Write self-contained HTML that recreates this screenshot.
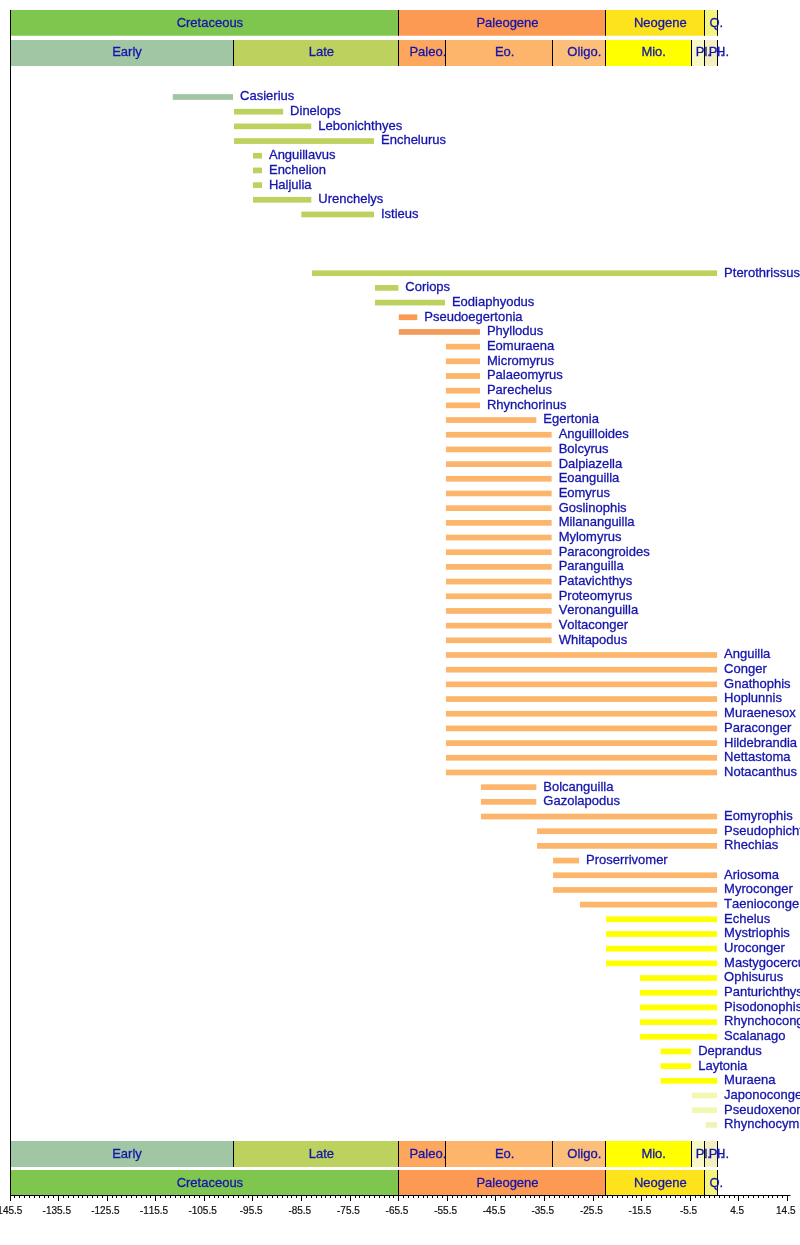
<!DOCTYPE html>
<html><head><meta charset="utf-8"><style>
html,body{margin:0;padding:0;background:#fff;}
body{width:800px;height:1245px;overflow:hidden;}
svg{display:block;filter:blur(0.35px);}
text{font-kerning:none;}
.t text{font-family:"Liberation Sans",Arial,sans-serif;font-size:13px;fill:#1515ac;stroke:#1515ac;stroke-width:0.3px;}
.a text{font-family:"Liberation Sans",Arial,sans-serif;font-size:10px;fill:#111;stroke:#111;stroke-width:0.2px;}
</style></head><body>
<svg width="800" height="1245" viewBox="0 0 800 1245">
<rect width="800" height="1245" fill="#fff"/>
<g class="t">
<rect x="10" y="10" width="388.79" height="25.75" fill="#7fc64e"/>
<rect x="398.79" y="10" width="206.4" height="25.75" fill="#fc9952"/>
<rect x="605.18" y="10" width="99.34" height="25.75" fill="#fde31b"/>
<rect x="704.53" y="10" width="12.58" height="25.75" fill="#f4f57e"/>
<rect x="398" y="10" width="1" height="25.75" fill="#000"/>
<rect x="605" y="10" width="1" height="25.75" fill="#000"/>
<rect x="704" y="10" width="1" height="25.75" fill="#000"/>
<rect x="717" y="10" width="1" height="25.75" fill="#000"/>
<text x="209.89" y="27.2" text-anchor="middle">Cretaceous</text>
<text x="507.48" y="27.2" text-anchor="middle">Paleogene</text>
<text x="660.35" y="27.2" text-anchor="middle">Neogene</text>
<text x="716.31" y="27.2" text-anchor="middle">Q.</text>
<rect x="10" y="40" width="223.07" height="26" fill="#a1c6a4"/>
<rect x="233.07" y="40" width="165.72" height="26" fill="#bdd15e"/>
<rect x="398.79" y="40" width="47.14" height="26" fill="#fca65e"/>
<rect x="445.93" y="40" width="106.43" height="26" fill="#fcb56b"/>
<rect x="552.36" y="40" width="52.83" height="26" fill="#fcbf7a"/>
<rect x="605.18" y="40" width="86.01" height="26" fill="#ffff00"/>
<rect x="691.19" y="40" width="13.34" height="26" fill="#f7f8c4"/>
<rect x="704.53" y="40" width="12.52" height="26" fill="#f3efc0"/>
<rect x="717.05" y="40" width="0.06" height="26" fill="#fff2e0"/>
<rect x="233" y="40" width="1" height="26" fill="#000"/>
<rect x="398" y="40" width="1" height="26" fill="#000"/>
<rect x="445" y="40" width="1" height="26" fill="#000"/>
<rect x="552" y="40" width="1" height="26" fill="#000"/>
<rect x="605" y="40" width="1" height="26" fill="#000"/>
<rect x="691" y="40" width="1" height="26" fill="#000"/>
<rect x="704" y="40" width="1" height="26" fill="#000"/>
<rect x="717" y="40" width="1" height="26" fill="#000"/>
<rect x="717" y="40" width="1" height="26" fill="#000"/>
<text x="127.03" y="56" text-anchor="middle">Early</text>
<text x="321.43" y="56" text-anchor="middle">Late</text>
<text x="427.86" y="56" text-anchor="middle">Paleo.</text>
<text x="504.64" y="56" text-anchor="middle">Eo.</text>
<text x="584.27" y="56" text-anchor="middle">Oligo.</text>
<text x="653.69" y="56" text-anchor="middle">Mio.</text>
<text x="703.36" y="56" text-anchor="middle">Pl.</text>
<text x="716.29" y="56" text-anchor="middle">Pl.</text>
<text x="722.57" y="56" text-anchor="middle">H.</text>
<rect x="10" y="1141" width="223.07" height="26" fill="#a1c6a4"/>
<rect x="233.07" y="1141" width="165.72" height="26" fill="#bdd15e"/>
<rect x="398.79" y="1141" width="47.14" height="26" fill="#fca65e"/>
<rect x="445.93" y="1141" width="106.43" height="26" fill="#fcb56b"/>
<rect x="552.36" y="1141" width="52.83" height="26" fill="#fcbf7a"/>
<rect x="605.18" y="1141" width="86.01" height="26" fill="#ffff00"/>
<rect x="691.19" y="1141" width="13.34" height="26" fill="#f7f8c4"/>
<rect x="704.53" y="1141" width="12.52" height="26" fill="#f3efc0"/>
<rect x="717.05" y="1141" width="0.06" height="26" fill="#fff2e0"/>
<rect x="233" y="1141" width="1" height="26" fill="#000"/>
<rect x="398" y="1141" width="1" height="26" fill="#000"/>
<rect x="445" y="1141" width="1" height="26" fill="#000"/>
<rect x="552" y="1141" width="1" height="26" fill="#000"/>
<rect x="605" y="1141" width="1" height="26" fill="#000"/>
<rect x="691" y="1141" width="1" height="26" fill="#000"/>
<rect x="704" y="1141" width="1" height="26" fill="#000"/>
<rect x="717" y="1141" width="1" height="26" fill="#000"/>
<rect x="717" y="1141" width="1" height="26" fill="#000"/>
<text x="127.03" y="1157.8" text-anchor="middle">Early</text>
<text x="321.43" y="1157.8" text-anchor="middle">Late</text>
<text x="427.86" y="1157.8" text-anchor="middle">Paleo.</text>
<text x="504.64" y="1157.8" text-anchor="middle">Eo.</text>
<text x="584.27" y="1157.8" text-anchor="middle">Oligo.</text>
<text x="653.69" y="1157.8" text-anchor="middle">Mio.</text>
<text x="703.36" y="1157.8" text-anchor="middle">Pl.</text>
<text x="716.29" y="1157.8" text-anchor="middle">Pl.</text>
<text x="722.57" y="1157.8" text-anchor="middle">H.</text>
<rect x="10" y="1170" width="388.79" height="25.2" fill="#7fc64e"/>
<rect x="398.79" y="1170" width="206.4" height="25.2" fill="#fc9952"/>
<rect x="605.18" y="1170" width="99.34" height="25.2" fill="#fde31b"/>
<rect x="704.53" y="1170" width="12.58" height="25.2" fill="#f4f57e"/>
<rect x="398" y="1170" width="1" height="25.2" fill="#000"/>
<rect x="605" y="1170" width="1" height="25.2" fill="#000"/>
<rect x="704" y="1170" width="1" height="25.2" fill="#000"/>
<rect x="717" y="1170" width="1" height="25.2" fill="#000"/>
<text x="209.89" y="1187.3" text-anchor="middle">Cretaceous</text>
<text x="507.48" y="1187.3" text-anchor="middle">Paleogene</text>
<text x="660.35" y="1187.3" text-anchor="middle">Neogene</text>
<text x="716.31" y="1187.3" text-anchor="middle">Q.</text>
<rect x="172.8" y="94.15" width="60.26" height="5.7" fill="#a1c6a4"/>
<text x="240.07" y="100.4">Casierius</text>
<rect x="233.99" y="108.83" width="49.13" height="5.7" fill="#bdd15e"/>
<text x="290.12" y="115.08">Dinelops</text>
<rect x="233.99" y="123.52" width="77.32" height="5.7" fill="#bdd15e"/>
<text x="318.31" y="129.77">Lebonichthyes</text>
<rect x="233.99" y="138.2" width="140.01" height="5.7" fill="#bdd15e"/>
<text x="381" y="144.45">Enchelurus</text>
<rect x="252.99" y="152.89" width="8.99" height="5.7" fill="#bdd15e"/>
<text x="268.98" y="159.14">Anguillavus</text>
<rect x="252.99" y="167.57" width="8.99" height="5.7" fill="#bdd15e"/>
<text x="268.98" y="173.82">Enchelion</text>
<rect x="252.99" y="182.25" width="8.99" height="5.7" fill="#bdd15e"/>
<text x="268.98" y="188.5">Haljulia</text>
<rect x="252.99" y="196.94" width="58.32" height="5.7" fill="#bdd15e"/>
<text x="318.31" y="203.19">Urenchelys</text>
<rect x="301.35" y="211.62" width="72.65" height="5.7" fill="#bdd15e"/>
<text x="381" y="217.87">Istieus</text>
<rect x="312.04" y="270.36" width="405.07" height="5.7" fill="#bdd15e"/>
<text x="724.1" y="276.61">Pterothrissus</text>
<rect x="374.97" y="285.04" width="23.33" height="5.7" fill="#bdd15e"/>
<text x="405.3" y="291.29">Coriops</text>
<rect x="374.97" y="299.73" width="69.98" height="5.7" fill="#bdd15e"/>
<text x="451.95" y="305.98">Eodiaphyodus</text>
<rect x="398.79" y="314.41" width="18.47" height="5.7" fill="#fc9952"/>
<text x="424.25" y="320.66">Pseudoegertonia</text>
<rect x="398.79" y="329.09" width="81.16" height="5.7" fill="#f39b5a"/>
<text x="486.94" y="335.34">Phyllodus</text>
<rect x="445.93" y="343.78" width="34.02" height="5.7" fill="#fcb56b"/>
<text x="486.94" y="350.03">Eomuraena</text>
<rect x="445.93" y="358.46" width="34.02" height="5.7" fill="#fcb56b"/>
<text x="486.94" y="364.71">Micromyrus</text>
<rect x="445.93" y="373.15" width="34.02" height="5.7" fill="#fcb56b"/>
<text x="486.94" y="379.4">Palaeomyrus</text>
<rect x="445.93" y="387.83" width="34.02" height="5.7" fill="#fcb56b"/>
<text x="486.94" y="394.08">Parechelus</text>
<rect x="445.93" y="402.51" width="34.02" height="5.7" fill="#fcb56b"/>
<text x="486.94" y="408.76">Rhynchorinus</text>
<rect x="445.93" y="417.2" width="90.39" height="5.7" fill="#fcb56b"/>
<text x="543.32" y="423.45">Egertonia</text>
<rect x="445.93" y="431.88" width="105.7" height="5.7" fill="#fcb56b"/>
<text x="558.63" y="438.13">Anguilloides</text>
<rect x="445.93" y="446.57" width="105.7" height="5.7" fill="#fcb56b"/>
<text x="558.63" y="452.82">Bolcyrus</text>
<rect x="445.93" y="461.25" width="105.7" height="5.7" fill="#fcb56b"/>
<text x="558.63" y="467.5">Dalpiazella</text>
<rect x="445.93" y="475.93" width="105.7" height="5.7" fill="#fcb56b"/>
<text x="558.63" y="482.18">Eoanguilla</text>
<rect x="445.93" y="490.62" width="105.7" height="5.7" fill="#fcb56b"/>
<text x="558.63" y="496.87">Eomyrus</text>
<rect x="445.93" y="505.3" width="105.7" height="5.7" fill="#fcb56b"/>
<text x="558.63" y="511.55">Goslinophis</text>
<rect x="445.93" y="519.99" width="105.7" height="5.7" fill="#fcb56b"/>
<text x="558.63" y="526.24">Milananguilla</text>
<rect x="445.93" y="534.67" width="105.7" height="5.7" fill="#fcb56b"/>
<text x="558.63" y="540.92">Mylomyrus</text>
<rect x="445.93" y="549.35" width="105.7" height="5.7" fill="#fcb56b"/>
<text x="558.63" y="555.6">Paracongroides</text>
<rect x="445.93" y="564.04" width="105.7" height="5.7" fill="#fcb56b"/>
<text x="558.63" y="570.29">Paranguilla</text>
<rect x="445.93" y="578.72" width="105.7" height="5.7" fill="#fcb56b"/>
<text x="558.63" y="584.97">Patavichthys</text>
<rect x="445.93" y="593.41" width="105.7" height="5.7" fill="#fcb56b"/>
<text x="558.63" y="599.66">Proteomyrus</text>
<rect x="445.93" y="608.09" width="105.7" height="5.7" fill="#fcb56b"/>
<text x="558.63" y="614.34">Veronanguilla</text>
<rect x="445.93" y="622.77" width="105.7" height="5.7" fill="#fcb56b"/>
<text x="558.63" y="629.02">Voltaconger</text>
<rect x="445.93" y="637.46" width="105.7" height="5.7" fill="#fcb56b"/>
<text x="558.63" y="643.71">Whitapodus</text>
<rect x="445.93" y="652.14" width="271.18" height="5.7" fill="#fcb56b"/>
<text x="724.1" y="658.39">Anguilla</text>
<rect x="445.93" y="666.83" width="271.18" height="5.7" fill="#fcb56b"/>
<text x="724.1" y="673.08">Conger</text>
<rect x="445.93" y="681.51" width="271.18" height="5.7" fill="#fcb56b"/>
<text x="724.1" y="687.76">Gnathophis</text>
<rect x="445.93" y="696.19" width="271.18" height="5.7" fill="#fcb56b"/>
<text x="724.1" y="702.44">Hoplunnis</text>
<rect x="445.93" y="710.88" width="271.18" height="5.7" fill="#fcb56b"/>
<text x="724.1" y="717.13">Muraenesox</text>
<rect x="445.93" y="725.56" width="271.18" height="5.7" fill="#fcb56b"/>
<text x="724.1" y="731.81">Paraconger</text>
<rect x="445.93" y="740.25" width="271.18" height="5.7" fill="#fcb56b"/>
<text x="724.1" y="746.5">Hildebrandia</text>
<rect x="445.93" y="754.93" width="271.18" height="5.7" fill="#fcb56b"/>
<text x="724.1" y="761.18">Nettastoma</text>
<rect x="445.93" y="769.61" width="271.18" height="5.7" fill="#fcb56b"/>
<text x="724.1" y="775.86">Notacanthus</text>
<rect x="480.92" y="784.3" width="55.4" height="5.7" fill="#fcb56b"/>
<text x="543.32" y="790.55">Bolcanguilla</text>
<rect x="480.92" y="798.98" width="55.4" height="5.7" fill="#fcb56b"/>
<text x="543.32" y="805.23">Gazolapodus</text>
<rect x="480.92" y="813.67" width="236.19" height="5.7" fill="#fcb56b"/>
<text x="724.1" y="819.92">Eomyrophis</text>
<rect x="537.05" y="828.35" width="180.06" height="5.7" fill="#fcb56b"/>
<text x="724.1" y="834.6">Pseudophichthys</text>
<rect x="537.05" y="843.03" width="180.06" height="5.7" fill="#fcb56b"/>
<text x="724.1" y="849.28">Rhechias</text>
<rect x="553.08" y="857.72" width="26" height="5.7" fill="#fcb56b"/>
<text x="586.08" y="863.97">Proserrivomer</text>
<rect x="553.08" y="872.4" width="164.02" height="5.7" fill="#fcb56b"/>
<text x="724.1" y="878.65">Ariosoma</text>
<rect x="553.08" y="887.09" width="164.02" height="5.7" fill="#fcb56b"/>
<text x="724.1" y="893.34">Myroconger</text>
<rect x="580.06" y="901.77" width="137.05" height="5.7" fill="#fcb56b"/>
<text x="724.1" y="908.02">Taenioconger</text>
<rect x="606.06" y="916.45" width="111.05" height="5.7" fill="#ffff00"/>
<text x="724.1" y="922.7">Echelus</text>
<rect x="606.06" y="931.14" width="111.05" height="5.7" fill="#ffff00"/>
<text x="724.1" y="937.39">Mystriophis</text>
<rect x="606.06" y="945.82" width="111.05" height="5.7" fill="#ffff00"/>
<text x="724.1" y="952.07">Uroconger</text>
<rect x="606.06" y="960.51" width="111.05" height="5.7" fill="#ffff00"/>
<text x="724.1" y="966.76">Mastygocercus</text>
<rect x="640.07" y="975.19" width="77.03" height="5.7" fill="#ffff00"/>
<text x="724.1" y="981.44">Ophisurus</text>
<rect x="640.07" y="989.87" width="77.03" height="5.7" fill="#ffff00"/>
<text x="724.1" y="996.12">Panturichthys</text>
<rect x="640.07" y="1004.56" width="77.03" height="5.7" fill="#ffff00"/>
<text x="724.1" y="1010.81">Pisodonophis</text>
<rect x="640.07" y="1019.24" width="77.03" height="5.7" fill="#ffff00"/>
<text x="724.1" y="1025.49">Rhynchoconger</text>
<rect x="640.07" y="1033.93" width="77.03" height="5.7" fill="#ffff00"/>
<text x="724.1" y="1040.18">Scalanago</text>
<rect x="660.69" y="1048.61" width="30.5" height="5.7" fill="#ffff00"/>
<text x="698.19" y="1054.86">Deprandus</text>
<rect x="660.69" y="1063.29" width="30.5" height="5.7" fill="#ffff00"/>
<text x="698.19" y="1069.54">Laytonia</text>
<rect x="660.69" y="1077.98" width="56.41" height="5.7" fill="#ffff00"/>
<text x="724.1" y="1084.23">Muraena</text>
<rect x="691.83" y="1092.66" width="25.27" height="5.7" fill="#f3f8b0"/>
<text x="724.1" y="1098.91">Japonoconger</text>
<rect x="691.83" y="1107.35" width="25.27" height="5.7" fill="#f3f8b0"/>
<text x="724.1" y="1113.6">Pseudoxenomystax</text>
<rect x="705.68" y="1122.03" width="11.42" height="5.7" fill="#f2f2b8"/>
<text x="724.1" y="1128.28">Rhynchocymba</text>
<rect x="10" y="10" width="1" height="1186" fill="#000"/>
<rect x="10" y="1195" width="780.5" height="1" fill="#000"/>
<rect x="10" y="1196" width="1" height="5" fill="#000"/>
<rect x="14" y="1196" width="1" height="2" fill="#000"/>
<rect x="19" y="1196" width="1" height="2" fill="#000"/>
<rect x="24" y="1196" width="1" height="2" fill="#000"/>
<rect x="29" y="1196" width="1" height="2" fill="#000"/>
<rect x="34" y="1196" width="1" height="2" fill="#000"/>
<rect x="39" y="1196" width="1" height="2" fill="#000"/>
<rect x="44" y="1196" width="1" height="2" fill="#000"/>
<rect x="48" y="1196" width="1" height="2" fill="#000"/>
<rect x="53" y="1196" width="1" height="2" fill="#000"/>
<rect x="58" y="1196" width="1" height="5" fill="#000"/>
<rect x="63" y="1196" width="1" height="2" fill="#000"/>
<rect x="68" y="1196" width="1" height="2" fill="#000"/>
<rect x="73" y="1196" width="1" height="2" fill="#000"/>
<rect x="78" y="1196" width="1" height="2" fill="#000"/>
<rect x="82" y="1196" width="1" height="2" fill="#000"/>
<rect x="87" y="1196" width="1" height="2" fill="#000"/>
<rect x="92" y="1196" width="1" height="2" fill="#000"/>
<rect x="97" y="1196" width="1" height="2" fill="#000"/>
<rect x="102" y="1196" width="1" height="2" fill="#000"/>
<rect x="107" y="1196" width="1" height="5" fill="#000"/>
<rect x="112" y="1196" width="1" height="2" fill="#000"/>
<rect x="116" y="1196" width="1" height="2" fill="#000"/>
<rect x="121" y="1196" width="1" height="2" fill="#000"/>
<rect x="126" y="1196" width="1" height="2" fill="#000"/>
<rect x="131" y="1196" width="1" height="2" fill="#000"/>
<rect x="136" y="1196" width="1" height="2" fill="#000"/>
<rect x="141" y="1196" width="1" height="2" fill="#000"/>
<rect x="146" y="1196" width="1" height="2" fill="#000"/>
<rect x="150" y="1196" width="1" height="2" fill="#000"/>
<rect x="155" y="1196" width="1" height="5" fill="#000"/>
<rect x="160" y="1196" width="1" height="2" fill="#000"/>
<rect x="165" y="1196" width="1" height="2" fill="#000"/>
<rect x="170" y="1196" width="1" height="2" fill="#000"/>
<rect x="175" y="1196" width="1" height="2" fill="#000"/>
<rect x="180" y="1196" width="1" height="2" fill="#000"/>
<rect x="184" y="1196" width="1" height="2" fill="#000"/>
<rect x="189" y="1196" width="1" height="2" fill="#000"/>
<rect x="194" y="1196" width="1" height="2" fill="#000"/>
<rect x="199" y="1196" width="1" height="2" fill="#000"/>
<rect x="204" y="1196" width="1" height="5" fill="#000"/>
<rect x="209" y="1196" width="1" height="2" fill="#000"/>
<rect x="214" y="1196" width="1" height="2" fill="#000"/>
<rect x="218" y="1196" width="1" height="2" fill="#000"/>
<rect x="223" y="1196" width="1" height="2" fill="#000"/>
<rect x="228" y="1196" width="1" height="2" fill="#000"/>
<rect x="233" y="1196" width="1" height="2" fill="#000"/>
<rect x="238" y="1196" width="1" height="2" fill="#000"/>
<rect x="243" y="1196" width="1" height="2" fill="#000"/>
<rect x="248" y="1196" width="1" height="2" fill="#000"/>
<rect x="252" y="1196" width="1" height="5" fill="#000"/>
<rect x="257" y="1196" width="1" height="2" fill="#000"/>
<rect x="262" y="1196" width="1" height="2" fill="#000"/>
<rect x="267" y="1196" width="1" height="2" fill="#000"/>
<rect x="272" y="1196" width="1" height="2" fill="#000"/>
<rect x="277" y="1196" width="1" height="2" fill="#000"/>
<rect x="282" y="1196" width="1" height="2" fill="#000"/>
<rect x="287" y="1196" width="1" height="2" fill="#000"/>
<rect x="291" y="1196" width="1" height="2" fill="#000"/>
<rect x="296" y="1196" width="1" height="2" fill="#000"/>
<rect x="301" y="1196" width="1" height="5" fill="#000"/>
<rect x="306" y="1196" width="1" height="2" fill="#000"/>
<rect x="311" y="1196" width="1" height="2" fill="#000"/>
<rect x="316" y="1196" width="1" height="2" fill="#000"/>
<rect x="321" y="1196" width="1" height="2" fill="#000"/>
<rect x="325" y="1196" width="1" height="2" fill="#000"/>
<rect x="330" y="1196" width="1" height="2" fill="#000"/>
<rect x="335" y="1196" width="1" height="2" fill="#000"/>
<rect x="340" y="1196" width="1" height="2" fill="#000"/>
<rect x="345" y="1196" width="1" height="2" fill="#000"/>
<rect x="350" y="1196" width="1" height="5" fill="#000"/>
<rect x="355" y="1196" width="1" height="2" fill="#000"/>
<rect x="359" y="1196" width="1" height="2" fill="#000"/>
<rect x="364" y="1196" width="1" height="2" fill="#000"/>
<rect x="369" y="1196" width="1" height="2" fill="#000"/>
<rect x="374" y="1196" width="1" height="2" fill="#000"/>
<rect x="379" y="1196" width="1" height="2" fill="#000"/>
<rect x="384" y="1196" width="1" height="2" fill="#000"/>
<rect x="389" y="1196" width="1" height="2" fill="#000"/>
<rect x="393" y="1196" width="1" height="2" fill="#000"/>
<rect x="398" y="1196" width="1" height="5" fill="#000"/>
<rect x="403" y="1196" width="1" height="2" fill="#000"/>
<rect x="408" y="1196" width="1" height="2" fill="#000"/>
<rect x="413" y="1196" width="1" height="2" fill="#000"/>
<rect x="418" y="1196" width="1" height="2" fill="#000"/>
<rect x="423" y="1196" width="1" height="2" fill="#000"/>
<rect x="427" y="1196" width="1" height="2" fill="#000"/>
<rect x="432" y="1196" width="1" height="2" fill="#000"/>
<rect x="437" y="1196" width="1" height="2" fill="#000"/>
<rect x="442" y="1196" width="1" height="2" fill="#000"/>
<rect x="447" y="1196" width="1" height="5" fill="#000"/>
<rect x="452" y="1196" width="1" height="2" fill="#000"/>
<rect x="457" y="1196" width="1" height="2" fill="#000"/>
<rect x="461" y="1196" width="1" height="2" fill="#000"/>
<rect x="466" y="1196" width="1" height="2" fill="#000"/>
<rect x="471" y="1196" width="1" height="2" fill="#000"/>
<rect x="476" y="1196" width="1" height="2" fill="#000"/>
<rect x="481" y="1196" width="1" height="2" fill="#000"/>
<rect x="486" y="1196" width="1" height="2" fill="#000"/>
<rect x="491" y="1196" width="1" height="2" fill="#000"/>
<rect x="495" y="1196" width="1" height="5" fill="#000"/>
<rect x="500" y="1196" width="1" height="2" fill="#000"/>
<rect x="505" y="1196" width="1" height="2" fill="#000"/>
<rect x="510" y="1196" width="1" height="2" fill="#000"/>
<rect x="515" y="1196" width="1" height="2" fill="#000"/>
<rect x="520" y="1196" width="1" height="2" fill="#000"/>
<rect x="525" y="1196" width="1" height="2" fill="#000"/>
<rect x="530" y="1196" width="1" height="2" fill="#000"/>
<rect x="534" y="1196" width="1" height="2" fill="#000"/>
<rect x="539" y="1196" width="1" height="2" fill="#000"/>
<rect x="544" y="1196" width="1" height="5" fill="#000"/>
<rect x="549" y="1196" width="1" height="2" fill="#000"/>
<rect x="554" y="1196" width="1" height="2" fill="#000"/>
<rect x="559" y="1196" width="1" height="2" fill="#000"/>
<rect x="564" y="1196" width="1" height="2" fill="#000"/>
<rect x="568" y="1196" width="1" height="2" fill="#000"/>
<rect x="573" y="1196" width="1" height="2" fill="#000"/>
<rect x="578" y="1196" width="1" height="2" fill="#000"/>
<rect x="583" y="1196" width="1" height="2" fill="#000"/>
<rect x="588" y="1196" width="1" height="2" fill="#000"/>
<rect x="593" y="1196" width="1" height="5" fill="#000"/>
<rect x="598" y="1196" width="1" height="2" fill="#000"/>
<rect x="602" y="1196" width="1" height="2" fill="#000"/>
<rect x="607" y="1196" width="1" height="2" fill="#000"/>
<rect x="612" y="1196" width="1" height="2" fill="#000"/>
<rect x="617" y="1196" width="1" height="2" fill="#000"/>
<rect x="622" y="1196" width="1" height="2" fill="#000"/>
<rect x="627" y="1196" width="1" height="2" fill="#000"/>
<rect x="632" y="1196" width="1" height="2" fill="#000"/>
<rect x="636" y="1196" width="1" height="2" fill="#000"/>
<rect x="641" y="1196" width="1" height="5" fill="#000"/>
<rect x="646" y="1196" width="1" height="2" fill="#000"/>
<rect x="651" y="1196" width="1" height="2" fill="#000"/>
<rect x="656" y="1196" width="1" height="2" fill="#000"/>
<rect x="661" y="1196" width="1" height="2" fill="#000"/>
<rect x="666" y="1196" width="1" height="2" fill="#000"/>
<rect x="670" y="1196" width="1" height="2" fill="#000"/>
<rect x="675" y="1196" width="1" height="2" fill="#000"/>
<rect x="680" y="1196" width="1" height="2" fill="#000"/>
<rect x="685" y="1196" width="1" height="2" fill="#000"/>
<rect x="690" y="1196" width="1" height="5" fill="#000"/>
<rect x="695" y="1196" width="1" height="2" fill="#000"/>
<rect x="700" y="1196" width="1" height="2" fill="#000"/>
<rect x="704" y="1196" width="1" height="2" fill="#000"/>
<rect x="709" y="1196" width="1" height="2" fill="#000"/>
<rect x="714" y="1196" width="1" height="2" fill="#000"/>
<rect x="719" y="1196" width="1" height="2" fill="#000"/>
<rect x="724" y="1196" width="1" height="2" fill="#000"/>
<rect x="729" y="1196" width="1" height="2" fill="#000"/>
<rect x="734" y="1196" width="1" height="2" fill="#000"/>
<rect x="738" y="1196" width="1" height="5" fill="#000"/>
<rect x="743" y="1196" width="1" height="2" fill="#000"/>
<rect x="748" y="1196" width="1" height="2" fill="#000"/>
<rect x="753" y="1196" width="1" height="2" fill="#000"/>
<rect x="758" y="1196" width="1" height="2" fill="#000"/>
<rect x="763" y="1196" width="1" height="2" fill="#000"/>
<rect x="768" y="1196" width="1" height="2" fill="#000"/>
<rect x="772" y="1196" width="1" height="2" fill="#000"/>
<rect x="777" y="1196" width="1" height="2" fill="#000"/>
<rect x="782" y="1196" width="1" height="2" fill="#000"/>
<rect x="787" y="1196" width="1" height="5" fill="#000"/>
</g>
<g class="a">
<text x="8.2" y="1213.8" text-anchor="middle">-145.5</text>
<text x="56.8" y="1213.8" text-anchor="middle">-135.5</text>
<text x="105.4" y="1213.8" text-anchor="middle">-125.5</text>
<text x="153.99" y="1213.8" text-anchor="middle">-115.5</text>
<text x="202.59" y="1213.8" text-anchor="middle">-105.5</text>
<text x="251.19" y="1213.8" text-anchor="middle">-95.5</text>
<text x="299.79" y="1213.8" text-anchor="middle">-85.5</text>
<text x="348.39" y="1213.8" text-anchor="middle">-75.5</text>
<text x="396.99" y="1213.8" text-anchor="middle">-65.5</text>
<text x="445.58" y="1213.8" text-anchor="middle">-55.5</text>
<text x="494.18" y="1213.8" text-anchor="middle">-45.5</text>
<text x="542.78" y="1213.8" text-anchor="middle">-35.5</text>
<text x="591.38" y="1213.8" text-anchor="middle">-25.5</text>
<text x="639.98" y="1213.8" text-anchor="middle">-15.5</text>
<text x="688.57" y="1213.8" text-anchor="middle">-5.5</text>
<text x="737.17" y="1213.8" text-anchor="middle">4.5</text>
<text x="785.77" y="1213.8" text-anchor="middle">14.5</text>
</g>
</svg>
</body></html>
